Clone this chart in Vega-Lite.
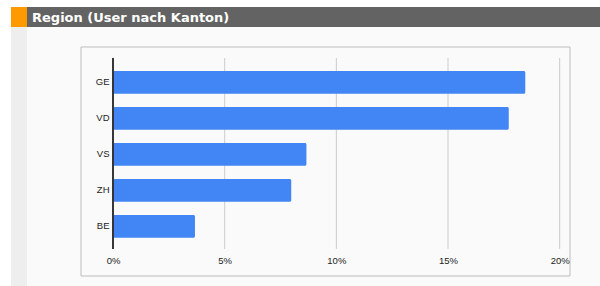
{
  "$schema": "https://vega.github.io/schema/vega-lite/v6.json",
  "background": "#fafafa",
  "padding": 0,
  "config": {"view": {"stroke": null}, "concat": {"spacing": 0}},
  "spacing": 0,
  "hconcat": [
    {"width": 11, "height": 286, "data": {"values": []}, "mark": "point", "view": {"fill": "#ffffff", "stroke": null}},
    {
      "spacing": 0,
      "vconcat": [
        {"width": 589, "height": 7, "data": {"values": []}, "mark": "point", "view": {"fill": "#ffffff", "stroke": null}},
        {
          "spacing": 0,
          "hconcat": [
            {"width": 16, "height": 20, "data": {"values": []}, "mark": "point", "view": {"fill": "#ff9900", "stroke": null}},
            {
              "width": 573, "height": 20,
              "view": {"fill": "#636363", "stroke": null},
              "data": {"values": [{"t": "Region (User nach Kanton)"}]},
              "mark": {"type": "text", "align": "left", "baseline": "alphabetic", "dx": 5, "dy": -5, "font": "DejaVu Sans", "fontSize": 13, "fontWeight": "bold", "color": "#ffffff"},
              "encoding": {
                "text": {"field": "t", "type": "nominal"},
                "x": {"datum": 0, "type": "quantitative", "scale": {"domain": [0, 1]}, "axis": null},
                "y": {"datum": 0, "type": "quantitative", "scale": {"domain": [0, 1]}, "axis": null}
              }
            }
          ]
        },
        {
          "spacing": 52.5,
          "hconcat": [
            {"width": 16, "height": 259, "data": {"values": []}, "mark": "point", "view": {"fill": "#eeeeee", "stroke": null}},
            {
              "spacing": 17.5,
              "vconcat": [
                {"width": 1, "height": 1, "data": {"values": []}, "mark": "point"},
                {
                  "width": 489,
                  "height": 229,
                  "view": {"fill": "#fafafa", "stroke": "#bdbdbd", "strokeWidth": 1},
                  "data": {"values": [
                    {"kanton": "GE", "share": 0.1846},
                    {"kanton": "VD", "share": 0.1772},
                    {"kanton": "VS", "share": 0.0866},
                    {"kanton": "ZH", "share": 0.0798},
                    {"kanton": "BE", "share": 0.0367}
                  ]},
                  "layer": [
                    {
                      "data": {"values": [{"tick": 0.05}, {"tick": 0.1}, {"tick": 0.15}, {"tick": 0.2}]},
                      "mark": {"type": "rule", "color": "#cccccc", "strokeWidth": 1, "yOffset": -24.35, "y2Offset": 22.65},
                      "encoding": {
                        "x": {"field": "tick", "type": "quantitative"},
                        "y": {"datum": "GE"},
                        "y2": {"datum": "BE"}
                      }
                    },
                    {
                      "mark": {"type": "bar", "color": "#4285f4", "cornerRadius": 1.5},
                      "encoding": {
                        "y": {
                          "field": "kanton", "type": "nominal",
                          "scale": {"domain": ["GE", "VD", "VS", "ZH", "BE"], "paddingInner": 0.369, "paddingOuter": 0.865, "align": 0.393},
                          "axis": {"title": null, "offset": -32.5, "domain": false, "ticks": false, "labelPadding": 4, "labelFont": "Liberation Sans", "labelFontSize": 9.5, "labelColor": "#222222"}
                        },
                        "x": {
                          "field": "share", "type": "quantitative",
                          "scale": {"domain": [-0.01455, 0.2044], "nice": false, "zero": false},
                          "axis": {"title": null, "values": [0, 0.05, 0.1, 0.15, 0.2], "format": ".0%", "offset": -26.5, "grid": false, "domain": false, "ticks": false, "labelPadding": 6, "labelFont": "Liberation Sans", "labelFontSize": 9.5, "labelColor": "#222222"}
                        },
                        "x2": {"datum": 0}
                      }
                    },
                    {
                      "mark": {"type": "rule", "color": "#333333", "strokeWidth": 1, "yOffset": -24.35, "y2Offset": 22.65},
                      "encoding": {
                        "x": {"datum": 0},
                        "y": {"datum": "GE"},
                        "y2": {"datum": "BE"}
                      }
                    }
                  ]
                }
              ]
            }
          ]
        }
      ]
    }
  ]
}
